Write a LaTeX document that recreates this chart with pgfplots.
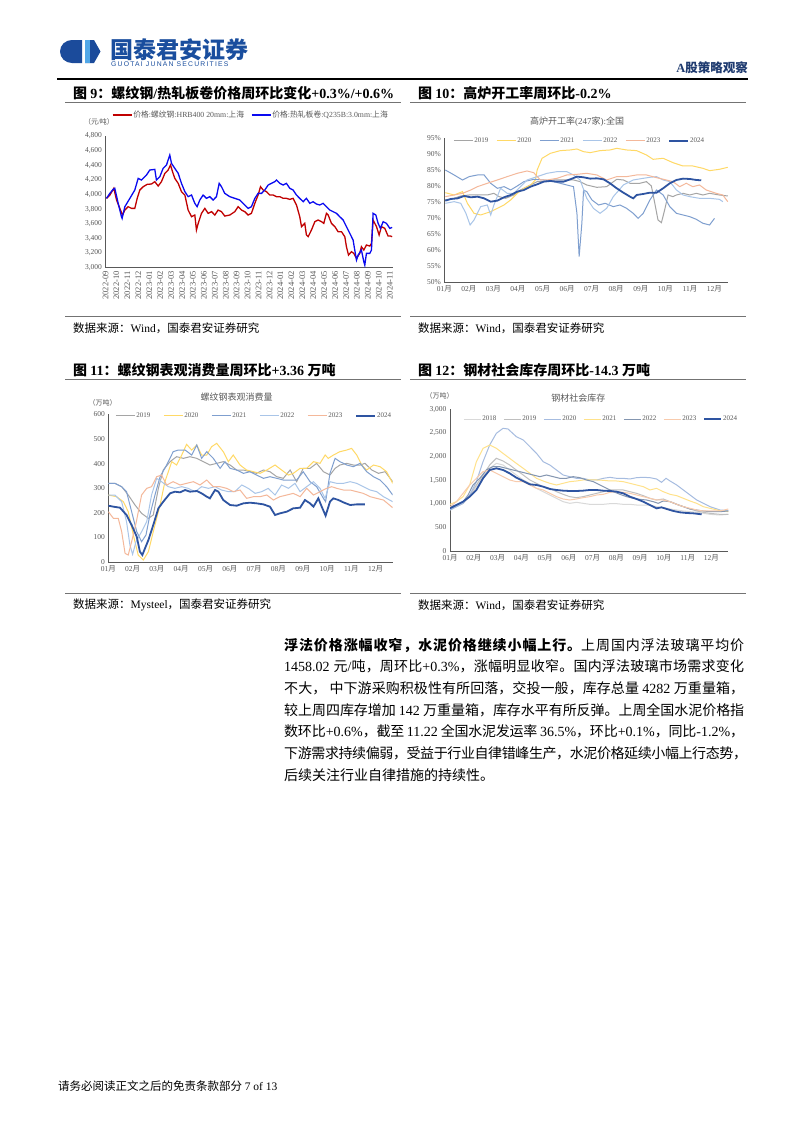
\documentclass[border=0pt]{standalone}
\usepackage{fontspec}
\usepackage{pgfplots}
\pgfplotsset{compat=1.18}
\setmainfont{Liberation Serif}
\newfontfamily\cjk{Noto Sans CJK SC}
\newfontfamily\lsanssp[LetterSpace=18]{Liberation Sans}
\newcommand\fs[1]{\fontsize{#1}{#1}\selectfont}
% automatic CJK font switching
\XeTeXinterchartokenstate=1
\newXeTeXintercharclass\CJKclass
\newcount\cjkcnt
\cjkcnt="4E00
\loop \XeTeXcharclass\cjkcnt=\CJKclass \advance\cjkcnt by 1 \ifnum\cjkcnt<"A000 \repeat
\cjkcnt="3000
\loop \XeTeXcharclass\cjkcnt=\CJKclass \advance\cjkcnt by 1 \ifnum\cjkcnt<"3040 \repeat
\cjkcnt="FF00
\loop \XeTeXcharclass\cjkcnt=\CJKclass \advance\cjkcnt by 1 \ifnum\cjkcnt<"FFF0 \repeat
\XeTeXinterchartoks 0 \CJKclass = {\cjk}
\XeTeXinterchartoks 4095 \CJKclass = {\cjk}
\XeTeXinterchartoks \CJKclass 0 = {\rmfamily}
\XeTeXinterchartoks 4095 0 = {\rmfamily}
\XeTeXinterchartoks \CJKclass \CJKclass = {\cjk\hskip0pt plus 1pt minus 0.4pt}

\definecolor{tickgray}{HTML}{595959}
\definecolor{red9}{HTML}{C00000}
\definecolor{blue9}{HTML}{0A0AF0}
\definecolor{c19}{HTML}{A5A5A5}
\definecolor{c20}{HTML}{FFD966}
\definecolor{c21}{HTML}{7F9FCF}
\definecolor{c22}{HTML}{A9C5E8}
\definecolor{c23}{HTML}{F4B89A}
\definecolor{c24}{HTML}{2E54A1}
\definecolor{d18}{HTML}{D9D9D9}
\definecolor{d19}{HTML}{BFBFBF}
\definecolor{d20}{HTML}{A6BCE0}
\definecolor{d21}{HTML}{FFE28A}
\definecolor{d22}{HTML}{8496B0}
\definecolor{d23}{HTML}{F8CBAD}
\definecolor{logodark}{HTML}{1B4B9B}
\definecolor{logolight}{HTML}{52A8E8}
\definecolor{hblue}{HTML}{1A4E9E}
\definecolor{navy}{HTML}{1F3B70}

\pgfplotsset{
  myax/.style={scale only axis, anchor=south west,
    axis x line*=bottom, axis y line*=left,
    axis line style={black!65, line width=0.6pt},
    major tick length=0pt,
    tick label style={font=\fs{7.5}, text=tickgray},
    /pgf/number format/assume math mode=true,
    /pgf/number format/1000 sep={,},
    scaled y ticks=false,
    legend cell align=left,
    legend style={draw=none, fill=none, font=\fs{7}, text=tickgray,
      inner sep=0pt, nodes={inner sep=1pt},
      /tikz/every even column/.append style={column sep=7pt}},
  },
}

\begin{document}
\begin{tikzpicture}
\begin{scope}[x=1pt,y=-1pt]
\useasboundingbox (0,0) rectangle (802,1133);
\fill[white] (0,0) rectangle (802,1133);
% ---- header ----
\fill[logodark] (82,40) -- (72,40) arc[start angle=270,end angle=90,x radius=12,y radius=11.5] -- (82,63) -- cycle;
\fill[logodark] (85,40) -- (94,40) -- (100.5,51.5) -- (94,63) -- (85,63) -- cycle;
\fill[logolight] (85,40) rectangle (90,63);
\node[anchor=west, inner sep=0, text=hblue, font=\bfseries\fs{23}] at (110,49.5) {国泰君安证券};
\node[anchor=west, inner sep=0, text=hblue, font={\XeTeXinterchartokenstate=0 \lsanssp\fs{6.8}}] at (111,64) {GUOTAI JUNAN SECURITIES};
\node[anchor=east, inner sep=0, text=navy, font=\bfseries\fs{12.5}] at (748,68) {A股策略观察};
\draw[black, line width=1.2pt] (57,79) -- (748,79);
% ---- figure titles ----
\node[anchor=west, inner sep=0, font=\bfseries\fs{14}] at (73,93) {图 9：螺纹钢/热轧板卷价格周环比变化+0.3\%/+0.6\%};
\node[anchor=west, inner sep=0, font=\bfseries\fs{14}] at (418,93) {图 10：高炉开工率周环比-0.2\%};
\draw[black!55, line width=0.9pt] (65,102.5) -- (401,102.5);
\draw[black!55, line width=0.9pt] (410,102.5) -- (746,102.5);
\node[anchor=west, inner sep=0, font=\bfseries\fs{14}] at (73,370) {图 11：螺纹钢表观消费量周环比+3.36 万吨};
\node[anchor=west, inner sep=0, font=\bfseries\fs{14}] at (418,370) {图 12：钢材社会库存周环比-14.3 万吨};
\draw[black!55, line width=0.9pt] (65,379.5) -- (401,379.5);
\draw[black!55, line width=0.9pt] (410,379.5) -- (746,379.5);
% ---- bottom rules and sources ----
\draw[black!55, line width=0.9pt] (65,316.5) -- (401,316.5);
\draw[black!55, line width=0.9pt] (410,316.5) -- (746,316.5);
\draw[black!55, line width=0.9pt] (65,593) -- (401,593);
\draw[black!55, line width=0.9pt] (410,593) -- (746,593);
\node[anchor=west, inner sep=0, font=\fs{11.5}] at (73,328) {数据来源：Wind，国泰君安证券研究};
\node[anchor=west, inner sep=0, font=\fs{11.5}] at (418,328) {数据来源：Wind，国泰君安证券研究};
\node[anchor=west, inner sep=0, font=\fs{11.5}] at (73,605) {数据来源：Mysteel，国泰君安证券研究};
\node[anchor=west, inner sep=0, font=\fs{11.5}] at (418,605) {数据来源：Wind，国泰君安证券研究};
% ---- chart inner titles and units ----
\node[text=tickgray, font=\fs{7}] at (99,122) {（元/吨）};
\node[text=tickgray, font=\fs{9}] at (577,121.7) {高炉开工率(247家):全国};
\node[text=tickgray, font=\fs{9}] at (236.7,397.3) {螺纹钢表观消费量};
\node[text=tickgray, font=\fs{7}] at (102.5,402.7) {（万吨）};
\node[text=tickgray, font=\fs{9}] at (578.3,398.3) {钢材社会库存};
\node[text=tickgray, font=\fs{7}] at (439.5,396) {（万吨）};
% ---- body text ----
\node[anchor=base west, inner sep=0, font=\fs{14}] at (284,650) {\hbox to 460pt{{\bfseries 浮法价格涨幅收窄，水泥价格继续小幅上行。}上周国内浮法玻璃平均价}};
\node[anchor=base west, inner sep=0, font=\fs{14}] at (284,671.7) {\hbox to 460pt{1458.02 元/吨，周环比+0.3\%，涨幅明显收窄。国内浮法玻璃市场需求变化}};
\node[anchor=base west, inner sep=0, font=\fs{14}] at (284,693.4) {\hbox to 460pt{不大， 中下游采购积极性有所回落，交投一般，库存总量 4282 万重量箱，}};
\node[anchor=base west, inner sep=0, font=\fs{14}] at (284,715.1) {\hbox to 460pt{较上周四库存增加 142 万重量箱，库存水平有所反弹。上周全国水泥价格指}};
\node[anchor=base west, inner sep=0, font=\fs{14}] at (284,736.8) {\hbox to 460pt{数环比+0.6\%，截至 11.22 全国水泥发运率 36.5\%，环比+0.1\%，同比-1.2\%，}};
\node[anchor=base west, inner sep=0, font=\fs{14}] at (284,758.5) {\hbox to 460pt{下游需求持续偏弱，受益于行业自律错峰生产，水泥价格延续小幅上行态势，}};
\node[anchor=base west, inner sep=0, font=\fs{14}] at (284,780.2) {后续关注行业自律措施的持续性。};
% ---- footer ----
\node[anchor=west, inner sep=0, font=\fs{11.5}] at (58,1086) {请务必阅读正文之后的免责条款部分 7 of 13};
\end{scope}

% ================= Chart 9 =================
\begin{axis}[myax, at={(105.5pt,-267.7pt)}, width=287.5pt, height=131.7pt,
  xmin=0, xmax=26.3, ymin=3000, ymax=4800,
  ytick={3000,3200,...,4800},
  xtick={0,...,26},
  xticklabels={2022-09,2022-10,2022-11,2022-12,2023-01,2023-02,2023-03,2023-04,2023-05,2023-06,2023-07,2023-08,2023-09,2023-10,2023-11,2023-12,2024-01,2024-02,2024-03,2024-04,2024-05,2024-06,2024-07,2024-08,2024-09,2024-10,2024-11},
  xticklabel style={rotate=90, anchor=east, font=\fs{8.5}},
  legend columns=2,
  legend style={at={(0.022,1.16)}, anchor=west, font=\fs{7.8},
    /tikz/every even column/.append style={column sep=6pt}},
  legend image code/.code={\draw[#1] (0pt,0pt) -- (19pt,0pt);},
]
\addplot[red9, line width=1.3pt] coordinates {
(0.09,3948)(0.40,3993)(0.76,4085)(1.01,3925)(1.31,3811)(1.55,3720)(1.77,3788)(2.07,3834)(2.38,3811)(2.68,3811)(2.90,3948)(3.14,4062)(3.45,4107)(3.81,4139)(4.21,4144)(4.51,4176)(4.82,4116)(5.12,4176)(5.43,4290)(5.73,4335)(5.95,4404)(6.13,4312)(6.34,4221)(6.65,4153)(6.95,4039)(7.26,3993)(7.56,3788)(7.87,3697)(8.17,3720)(8.32,3515)(8.48,3606)(8.78,3743)(9.09,3811)(9.39,3743)(9.70,3766)(10.00,3720)(10.30,3788)(10.61,3766)(10.91,3706)(11.37,3720)(11.83,3766)(12.13,3834)(12.44,3788)(12.74,3766)(13.05,3720)(13.35,3743)(13.66,3880)(13.96,3993)(14.18,4107)(14.42,4062)(14.73,4039)(15.03,3993)(15.34,3993)(15.64,3971)(15.95,3971)(16.25,3948)(16.55,3948)(16.86,3934)(17.16,3948)(17.47,3857)(17.77,3697)(17.93,3561)(18.23,3606)(18.38,3447)(18.54,3424)(18.84,3515)(19.15,3629)(19.45,3652)(19.76,3629)(19.97,3606)(20.21,3743)(20.37,3720)(20.67,3606)(20.98,3561)(21.28,3492)(21.59,3492)(21.89,3424)(22.04,3287)(22.23,3173)(22.50,3219)(22.71,3196)(22.96,3128)(23.26,3196)(23.41,3287)(23.63,3242)(23.87,3310)(24.18,3296)(24.33,3333)(24.48,3652)(24.79,3561)(25.03,3447)(25.24,3561)(25.55,3538)(25.85,3433)(26.07,3433)(26.22,3424)
};
\addlegendentry{价格:螺纹钢:HRB400 20mm:上海}
\addplot[blue9, line width=1.3pt] coordinates {
(0.09,3948)(0.40,4016)(0.70,4071)(0.85,4085)(1.16,3880)(1.46,3697)(1.52,3674)(1.77,3834)(2.23,3948)(2.68,4062)(2.99,4221)(3.29,4198)(3.75,4267)(4.05,4335)(4.51,4344)(4.66,4198)(4.97,4244)(5.27,4358)(5.58,4404)(5.88,4540)(6.04,4426)(6.34,4358)(6.65,4290)(6.95,4153)(7.26,4039)(7.56,3971)(7.87,3993)(8.17,3880)(8.38,3834)(8.63,3925)(8.93,3993)(9.24,3948)(9.54,3971)(9.85,3925)(10.15,3971)(10.40,4153)(10.61,4107)(10.91,4016)(11.37,3971)(11.83,3948)(12.29,3925)(12.74,3857)(13.05,3811)(13.35,3834)(13.66,3948)(13.96,4016)(14.27,4016)(14.57,4062)(14.88,4130)(15.18,4153)(15.49,4176)(15.64,4198)(15.95,4153)(16.25,4130)(16.55,4153)(16.86,4085)(17.16,4062)(17.47,3993)(17.77,3948)(18.08,3902)(18.38,3948)(18.69,3880)(18.99,3902)(19.30,3870)(19.60,3857)(19.91,3880)(20.21,3834)(20.52,3788)(20.82,3766)(21.13,3743)(21.43,3697)(21.74,3652)(22.04,3561)(22.35,3469)(22.65,3378)(22.80,3242)(22.96,3105)(23.11,3173)(23.41,3242)(23.63,3082)(23.72,3036)(23.87,3196)(24.18,3196)(24.33,3242)(24.48,3743)(24.73,3720)(24.94,3606)(25.15,3538)(25.40,3629)(25.70,3606)(26.01,3538)(26.22,3551)
};
\addlegendentry{价格:热轧板卷:Q235B:3.0mm:上海}
\end{axis}

% ================= Chart 10 =================
\begin{axis}[myax, at={(444.3pt,-282pt)}, width=283.7pt, height=143.7pt,
  xmin=0, xmax=11.55, ymin=50, ymax=95,
  ytick={50,55,...,95},
  yticklabel={\pgfmathprintnumber{\tick}\%},
  xtick={0,...,11},
  xticklabels={01月,02月,03月,04月,05月,06月,07月,08月,09月,10月,11月,12月},
  legend columns=6,
  legend style={at={(0.031,0.983)}, anchor=west},
  legend image code/.code={\draw[#1] (0pt,0pt) -- (19pt,0pt);},
]
\addplot[c19, line width=1pt] coordinates {
(0.04,75.69)(0.40,76.21)(0.67,76.94)(1.01,77.25)(1.35,77.25)(1.75,77.25)(2.02,77.77)(2.23,76.73)(2.50,76.21)(2.83,77.25)(3.10,78.82)(3.51,80.38)(3.78,81.43)(4.05,81.43)(4.45,81.95)(4.86,81.95)(5.26,81.95)(5.53,81.43)(5.80,80.38)(6.21,79.65)(6.61,79.86)(7.02,82.16)(7.29,81.95)(7.56,80.91)(7.96,80.91)(8.23,81.43)(8.43,80.07)(8.57,74.64)(8.70,69.42)(8.84,68.59)(8.97,72.55)(9.11,77.25)(9.31,76.73)(9.45,77.25)(9.72,77.77)(9.99,77.25)(10.26,77.77)(10.53,77.25)(10.80,77.77)(11.20,77.25)(11.54,76.94)
};
\addlegendentry{2019}
\addplot[c20, line width=1pt] coordinates {
(0.04,77.98)(0.40,77.25)(0.74,78.30)(0.94,74.64)(1.21,71.51)(1.48,70.99)(1.89,72.03)(2.16,73.08)(2.43,74.12)(2.70,75.69)(2.97,77.77)(3.24,79.34)(3.51,80.38)(3.71,81.95)(3.78,85.08)(3.98,88.74)(4.32,90.30)(4.72,91.14)(5.13,91.35)(5.40,91.66)(5.67,90.82)(5.94,90.51)(6.34,91.14)(6.75,91.35)(7.02,91.87)(7.42,91.35)(7.83,91.14)(8.23,89.78)(8.50,88.42)(8.91,88.74)(9.31,87.38)(9.72,86.33)(10.12,86.33)(10.53,85.60)(10.80,84.87)(11.20,85.29)(11.54,85.92)
};
\addlegendentry{2020}
\addplot[c21, line width=1pt] coordinates {
(0.04,85.08)(0.40,83.52)(0.74,81.95)(1.01,83.00)(1.35,83.52)(1.62,83.52)(1.89,80.91)(2.16,79.34)(2.43,79.86)(2.70,78.82)(2.97,80.07)(3.24,81.43)(3.64,82.16)(4.05,81.95)(4.32,81.64)(4.72,80.91)(4.99,80.38)(5.26,79.86)(5.40,71.51)(5.49,57.94)(5.60,68.38)(5.67,78.82)(5.80,78.30)(6.01,75.69)(6.28,74.12)(6.55,74.64)(6.88,73.60)(7.15,74.12)(7.42,73.08)(7.69,71.51)(7.89,69.94)(8.10,71.51)(8.37,75.69)(8.64,78.82)(8.91,77.25)(9.18,73.60)(9.45,71.51)(9.72,70.99)(9.99,70.47)(10.26,69.63)(10.53,68.38)(10.80,67.86)(11.00,69.94)
};
\addlegendentry{2021}
\addplot[c22, line width=1pt] coordinates {
(0.04,74.64)(0.40,75.16)(0.67,74.64)(0.88,71.51)(1.05,67.86)(1.21,69.42)(1.48,73.60)(1.75,74.12)(1.89,70.99)(2.02,74.12)(2.29,79.34)(2.56,77.77)(2.83,77.77)(3.10,79.86)(3.37,81.95)(3.78,83.00)(4.18,84.04)(4.59,84.56)(4.99,84.56)(5.26,83.52)(5.53,81.95)(5.80,76.21)(6.07,73.08)(6.34,71.51)(6.61,73.08)(6.88,76.73)(7.29,80.38)(7.69,81.95)(8.10,82.47)(8.37,82.79)(8.64,83.00)(8.91,81.95)(9.18,81.43)(9.45,78.82)(9.72,77.25)(9.99,76.73)(10.39,76.21)(10.80,76.21)(11.20,75.89)(11.34,75.16)
};
\addlegendentry{2022}
\addplot[c23, line width=1pt] coordinates {
(0.04,76.73)(0.40,77.25)(0.74,77.77)(1.08,78.82)(1.35,79.86)(1.75,80.91)(2.16,81.95)(2.56,83.00)(2.97,84.04)(3.37,84.77)(3.64,84.25)(3.91,81.95)(4.18,81.95)(4.59,82.47)(4.99,83.52)(5.40,83.72)(5.80,84.04)(6.21,83.52)(6.61,81.95)(7.02,83.00)(7.42,83.00)(7.83,83.52)(8.23,83.52)(8.64,82.68)(9.04,81.95)(9.31,81.43)(9.58,79.86)(9.85,80.91)(10.12,79.86)(10.39,80.38)(10.66,78.82)(11.07,77.77)(11.34,77.25)(11.54,75.16)
};
\addlegendentry{2023}
\addplot[c24, line width=1.8pt] coordinates {
(0.04,75.48)(0.27,76.00)(0.54,76.20)(0.81,76.94)(1.08,76.52)(1.35,76.73)(1.62,76.21)(1.89,75.16)(2.16,75.48)(2.43,76.52)(2.70,77.25)(2.97,78.30)(3.24,78.80)(3.51,79.86)(3.78,80.59)(4.05,81.43)(4.32,81.64)(4.59,81.43)(4.86,81.43)(5.13,82.16)(5.40,83.00)(5.67,82.79)(5.94,82.37)(6.21,82.47)(6.48,82.16)(6.75,80.90)(7.02,79.34)(7.29,77.98)(7.56,76.73)(7.69,76.21)(7.83,77.25)(8.10,77.57)(8.37,77.98)(8.64,77.98)(8.91,79.34)(9.18,80.90)(9.45,81.95)(9.72,82.37)(10.00,82.26)(10.26,81.95)(10.46,81.85)
};
\addlegendentry{2024}
\end{axis}

% ================= Chart 11 =================
\begin{axis}[myax, at={(108.3pt,-562pt)}, width=284.4pt, height=147.7pt,
  xmin=0, xmax=11.70, ymin=0, ymax=600,
  ytick={0,100,...,600},
  xtick={0,...,11},
  xticklabels={01月,02月,03月,04月,05月,06月,07月,08月,09月,10月,11月,12月},
  legend columns=6,
  legend style={at={(0.024,0.99)}, anchor=west,
    /tikz/every even column/.append style={column sep=12pt}},
  legend image code/.code={\draw[#1] (0pt,0pt) -- (19pt,0pt);},
]
\addplot[c19, line width=1pt] coordinates {
(0,319.5)(0.27,319.5)(0.55,306.0)(0.82,272.2)(1.10,231.5)(1.37,197.7)(1.65,177.4)(1.85,190.9)(2.06,299.2)(2.26,373.7)(2.54,407.6)(2.81,427.9)(3.09,421.1)(3.36,427.9)(3.64,421.1)(3.91,407.6)(4.18,394.0)(4.46,400.8)(4.73,407.6)(5.01,394.0)(5.28,373.7)(5.56,373.7)(5.83,366.9)(6.10,360.2)(6.38,373.7)(6.65,366.9)(6.93,346.6)(7.20,339.9)(7.48,373.7)(7.75,326.3)(8.02,380.5)(8.30,380.5)(8.57,400.8)(8.85,366.9)(9.12,353.4)(9.33,380.5)(9.53,394.0)(9.81,400.8)(10.08,394.0)(10.36,394.0)(10.56,400.8)(10.84,373.7)(11.11,360.2)(11.39,366.9)(11.70,326.3)
};
\addlegendentry{2019}
\addplot[c20, line width=1pt] coordinates {
(0,272.2)(0.34,265.4)(0.62,245.0)(0.82,204.5)(1.03,109.7)(1.23,28.4)(1.44,8.1)(1.65,42.0)(1.85,123.2)(2.13,231.5)(2.33,326.3)(2.61,407.6)(2.81,394.0)(3.02,434.6)(3.22,478.0)(3.43,454.9)(3.64,475.3)(3.84,434.6)(4.05,434.6)(4.25,468.5)(4.46,482.0)(4.73,448.2)(4.94,407.6)(5.14,434.6)(5.42,394.0)(5.69,373.7)(5.97,366.9)(6.24,360.2)(6.52,373.7)(6.86,394.0)(7.13,373.7)(7.41,353.4)(7.61,360.2)(7.89,380.5)(8.16,380.5)(8.44,407.6)(8.71,400.8)(8.92,434.6)(9.05,421.1)(9.26,434.6)(9.53,448.2)(9.81,454.9)(10.01,461.7)(10.22,434.6)(10.43,394.0)(10.63,373.7)(10.91,394.0)(11.18,387.2)(11.45,366.9)(11.70,319.5)
};
\addlegendentry{2020}
\addplot[c21, line width=1pt] coordinates {
(0,319.5)(0.27,319.5)(0.55,306.0)(0.75,285.7)(0.96,204.5)(1.17,123.2)(1.37,82.6)(1.55,109.7)(1.71,190.9)(1.92,272.2)(2.13,346.6)(2.40,394.0)(2.67,448.2)(2.88,454.9)(3.16,454.9)(3.43,434.6)(3.64,475.3)(3.84,421.1)(4.05,448.2)(4.32,421.1)(4.60,380.5)(4.80,407.6)(5.01,380.5)(5.28,373.7)(5.56,360.2)(5.83,366.9)(6.10,353.4)(6.38,339.9)(6.65,346.6)(6.93,339.9)(7.20,333.1)(7.48,333.1)(7.75,333.1)(8.02,366.9)(8.30,326.3)(8.57,306.0)(8.85,258.6)(8.94,245.0)(9.12,360.2)(9.33,421.1)(9.53,407.6)(9.81,394.0)(10.08,387.2)(10.36,400.8)(10.63,366.9)(10.91,346.6)(11.18,333.1)(11.45,306.0)(11.70,272.2)
};
\addlegendentry{2021}
\addplot[c22, line width=1pt] coordinates {
(0,272.2)(0.27,272.2)(0.55,245.0)(0.75,163.8)(0.89,69.1)(1.00,31.1)(1.14,82.6)(1.37,123.2)(1.58,163.8)(1.78,272.2)(1.99,339.9)(2.19,326.3)(2.47,306.0)(2.74,299.2)(3.02,306.0)(3.29,299.2)(3.57,285.7)(3.84,306.0)(4.12,299.2)(4.39,306.0)(4.66,292.5)(4.94,285.7)(5.21,285.7)(5.49,312.8)(5.76,299.2)(6.04,278.9)(6.31,285.7)(6.58,299.2)(6.86,272.2)(7.13,312.8)(7.41,299.2)(7.68,319.5)(7.89,285.7)(8.16,306.0)(8.44,326.3)(8.71,299.2)(8.92,258.6)(9.12,326.3)(9.40,319.5)(9.67,319.5)(9.95,326.3)(10.22,319.5)(10.49,306.0)(10.77,292.5)(11.04,285.7)(11.32,265.4)(11.70,245.0)
};
\addlegendentry{2022}
\addplot[c23, line width=1pt] coordinates {
(0,204.5)(0.21,177.4)(0.41,177.4)(0.55,123.2)(0.69,35.2)(0.82,28.4)(0.96,82.6)(1.14,157.1)(1.37,272.2)(1.58,299.2)(1.78,306.0)(1.99,346.6)(2.19,353.4)(2.40,312.8)(2.67,326.3)(2.95,312.8)(3.22,319.5)(3.50,326.3)(3.77,312.8)(4.05,333.1)(4.32,306.0)(4.60,306.0)(4.87,299.2)(5.14,285.7)(5.42,292.5)(5.69,258.6)(5.97,265.4)(6.24,265.4)(6.52,272.2)(6.79,251.8)(7.06,265.4)(7.34,272.2)(7.61,278.9)(7.89,265.4)(8.16,299.2)(8.44,272.2)(8.71,285.7)(8.98,299.2)(9.19,306.0)(9.40,299.2)(9.67,292.5)(9.95,292.5)(10.22,285.7)(10.49,278.9)(10.77,265.4)(11.04,258.6)(11.32,251.8)(11.70,220.7)
};
\addlegendentry{2023}
\addplot[c24, line width=1.8pt] coordinates {
(0,228.8)(0.21,224.8)(0.48,220.7)(0.75,190.9)(0.96,150.3)(1.17,102.9)(1.30,42.0)(1.40,28.4)(1.51,55.5)(1.65,89.4)(1.85,150.3)(2.06,218.0)(2.26,245.0)(2.54,278.9)(2.74,285.7)(2.95,283.0)(3.16,292.5)(3.36,285.7)(3.64,288.4)(3.84,278.9)(4.05,265.4)(4.18,258.6)(4.39,292.5)(4.53,285.7)(4.73,251.8)(5.01,231.5)(5.28,228.8)(5.56,238.3)(5.83,241.0)(6.10,238.3)(6.38,234.2)(6.65,224.8)(6.86,190.9)(7.06,197.7)(7.34,204.5)(7.61,218.0)(7.89,220.7)(8.09,251.8)(8.30,238.3)(8.44,224.8)(8.64,258.6)(8.78,224.8)(8.94,188.2)(9.12,245.0)(9.26,258.6)(9.47,251.8)(9.67,242.4)(9.95,231.5)(10.22,234.2)(10.56,234.2)
};
\addlegendentry{2024}
\end{axis}

% ================= Chart 12 =================
\begin{axis}[myax, at={(450pt,-551pt)}, width=278.3pt, height=141.7pt,
  xmin=0, xmax=11.71, ymin=0, ymax=3000,
  ytick={0,500,...,3000},
  xtick={0,...,11},
  xticklabels={01月,02月,03月,04月,05月,06月,07月,08月,09月,10月,11月,12月},
  legend columns=7,
  legend style={at={(0.047,0.929)}, anchor=west,
    /tikz/every even column/.append style={column sep=6pt}},
  legend image code/.code={\draw[#1] (0pt,0pt) -- (17pt,0pt);},
]
\addplot[d18, line width=1pt] coordinates {
(0,903.6)(0.27,938.8)(0.55,1009.4)(0.83,1150.6)(1.11,1362.4)(1.39,1574.2)(1.67,1750.6)(1.95,1856.5)(2.23,1821.2)(2.51,1715.3)(2.79,1609.5)(3.08,1503.6)(3.36,1433.0)(3.64,1327.1)(3.92,1256.5)(4.20,1185.9)(4.48,1115.3)(4.76,1044.7)(5.04,1009.4)(5.32,1030.6)(5.60,1009.4)(5.88,988.3)(6.17,988.3)(6.45,988.3)(6.73,1002.4)(7.01,1002.4)(7.29,988.3)(7.57,988.3)(7.85,974.0)(8.13,974.0)(8.41,974.0)(8.69,938.8)(8.97,917.7)(9.26,889.4)(9.54,868.3)(9.82,847.1)(10.10,833.0)(10.38,818.8)(10.66,797.7)(10.94,776.5)(11.36,762.4)(11.71,776.5)
};
\addlegendentry{2018}
\addplot[d19, line width=1pt] coordinates {
(0,868.3)(0.27,938.8)(0.55,1009.4)(0.83,1185.9)(1.11,1397.7)(1.39,1609.5)(1.67,1821.2)(1.95,1962.4)(2.23,1905.9)(2.51,1821.2)(2.79,1715.3)(3.08,1609.5)(3.36,1503.6)(3.64,1433.0)(3.92,1362.4)(4.20,1327.1)(4.48,1256.5)(4.76,1200.0)(5.04,1150.6)(5.32,1129.4)(5.60,1150.6)(5.88,1185.9)(6.17,1221.2)(6.45,1256.5)(6.73,1291.8)(7.01,1291.8)(7.29,1291.8)(7.57,1256.5)(7.85,1221.2)(8.13,1171.8)(8.41,1115.3)(8.69,1080.0)(8.97,1101.2)(9.26,1044.7)(9.54,988.3)(9.82,938.8)(10.10,889.4)(10.38,847.1)(10.66,818.8)(10.94,797.7)(11.36,776.5)(11.71,776.5)
};
\addlegendentry{2019}
\addplot[d20, line width=1pt] coordinates {
(0,868.3)(0.27,938.8)(0.55,1009.4)(0.83,1185.9)(1.11,1468.3)(1.39,1891.8)(1.67,2244.8)(1.95,2491.8)(2.23,2597.7)(2.44,2583.6)(2.79,2421.2)(3.08,2350.6)(3.36,2209.5)(3.64,2068.3)(3.92,1891.8)(4.20,1821.2)(4.48,1715.3)(4.76,1609.5)(5.04,1574.2)(5.32,1538.9)(5.60,1538.9)(5.88,1503.6)(6.17,1503.6)(6.45,1538.9)(6.73,1560.0)(7.01,1538.9)(7.29,1538.9)(7.57,1524.7)(7.85,1553.0)(8.13,1560.0)(8.41,1553.0)(8.69,1524.7)(8.90,1454.2)(9.09,1538.9)(9.26,1482.4)(9.54,1397.7)(9.82,1291.8)(10.10,1185.9)(10.38,1080.0)(10.66,1009.4)(10.94,938.8)(11.36,868.3)(11.71,854.1)
};
\addlegendentry{2020}
\addplot[d21, line width=1pt] coordinates {
(0,988.3)(0.27,1044.7)(0.55,1150.6)(0.83,1397.7)(1.11,1891.8)(1.39,2174.2)(1.67,2244.8)(1.95,2174.2)(2.23,2068.3)(2.51,1962.4)(2.79,1856.5)(3.08,1750.6)(3.36,1644.7)(3.64,1538.9)(3.92,1482.4)(4.20,1433.0)(4.48,1397.7)(4.76,1433.0)(5.04,1468.3)(5.32,1482.4)(5.60,1503.6)(5.88,1503.6)(6.17,1503.6)(6.45,1496.5)(6.73,1482.4)(7.01,1482.4)(7.29,1468.3)(7.57,1433.0)(7.85,1397.7)(8.13,1362.4)(8.41,1291.8)(8.69,1327.1)(8.97,1256.5)(9.26,1200.0)(9.54,1171.8)(9.82,1115.3)(10.10,1058.9)(10.38,1009.4)(10.66,938.8)(10.94,903.6)(11.36,854.1)(11.71,833.0)
};
\addlegendentry{2021}
\addplot[d22, line width=1pt] coordinates {
(0,938.8)(0.27,974.0)(0.55,1044.7)(0.76,1185.9)(0.97,1397.7)(1.25,1538.9)(1.53,1715.3)(1.81,1785.9)(2.09,1785.9)(2.37,1750.6)(2.65,1715.3)(2.94,1680.0)(3.22,1644.7)(3.50,1609.5)(3.78,1574.2)(4.06,1609.5)(4.34,1574.2)(4.62,1538.9)(4.90,1538.9)(5.18,1574.2)(5.46,1553.0)(5.74,1503.6)(6.03,1468.3)(6.31,1397.7)(6.59,1327.1)(6.87,1256.5)(7.15,1200.0)(7.43,1150.6)(7.71,1115.3)(7.99,1094.1)(8.27,1080.0)(8.55,1044.7)(8.76,1009.4)(8.97,1058.9)(9.26,1044.7)(9.54,988.3)(9.82,938.8)(10.10,889.4)(10.38,868.3)(10.66,847.1)(10.94,833.0)(11.36,833.0)(11.71,847.1)
};
\addlegendentry{2022}
\addplot[d23, line width=1pt] coordinates {
(0,938.8)(0.27,1044.7)(0.55,1221.2)(0.83,1397.7)(1.11,1538.9)(1.39,1680.0)(1.67,1715.3)(1.95,1644.7)(2.23,1574.2)(2.51,1503.6)(2.79,1468.3)(3.08,1468.3)(3.36,1397.7)(3.64,1327.1)(3.92,1291.8)(4.20,1221.2)(4.48,1150.6)(4.76,1101.2)(5.04,1080.0)(5.32,1101.2)(5.60,1129.4)(5.88,1150.6)(6.17,1185.9)(6.45,1200.0)(6.73,1242.4)(7.01,1256.5)(7.29,1242.4)(7.57,1221.2)(7.85,1185.9)(8.13,1150.6)(8.41,1115.3)(8.69,1080.0)(8.97,1080.0)(9.26,1044.7)(9.54,988.3)(9.82,938.8)(10.10,903.6)(10.38,868.3)(10.66,847.1)(10.94,847.1)(11.36,847.1)(11.71,889.4)
};
\addlegendentry{2023}
\addplot[c24, line width=1.8pt] coordinates {
(0,903.6)(0.27,974.0)(0.55,1044.7)(0.83,1150.6)(1.11,1291.8)(1.39,1538.9)(1.67,1715.3)(1.95,1750.6)(2.23,1715.3)(2.51,1644.7)(2.79,1553.0)(3.08,1482.4)(3.36,1411.8)(3.64,1397.7)(3.92,1362.4)(4.20,1313.0)(4.48,1291.8)(4.76,1277.7)(5.04,1270.6)(5.32,1270.6)(5.60,1277.7)(5.88,1291.8)(6.17,1291.8)(6.45,1277.7)(6.73,1270.6)(7.01,1256.5)(7.29,1221.2)(7.57,1150.6)(7.85,1101.2)(8.13,1044.7)(8.41,974.0)(8.69,903.6)(8.90,924.7)(9.12,889.4)(9.40,847.1)(9.68,818.8)(9.96,804.7)(10.24,797.7)(10.59,776.5)
};
\addlegendentry{2024}
\end{axis}
\end{tikzpicture}
\end{document}
